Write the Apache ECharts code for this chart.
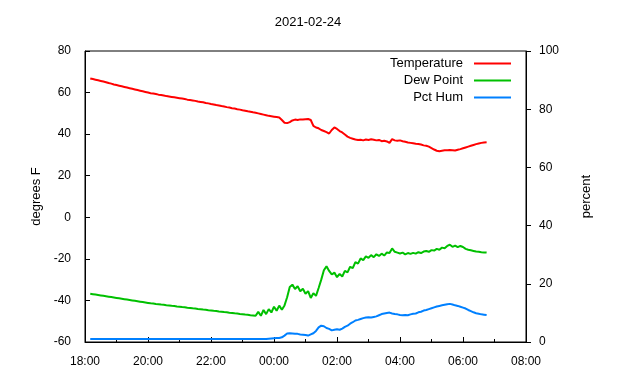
<!DOCTYPE html>
<html>
<head>
<meta charset="utf-8">
<script src="https://cdn.jsdelivr.net/npm/echarts@6/dist/echarts.min.js"></script>
<style>
  html, body { margin: 0; padding: 0; background: #fff; }
  #main { width: 640px; height: 380px; }
</style>
</head>
<body>
<div id="main"></div>
<script>
// samples every 5 minutes, first one at 18:10 (minutes counted from 18:00)
const startMin = 10;
const stepMin = 5;

const temperature = [
  66.8, 66.5, 66.2, 65.9, 65.6, 65.3, 65.0, 64.6, 64.3, 63.9,
  63.6, 63.3, 63.0, 62.7, 62.4, 62.1, 61.8, 61.5, 61.2, 60.9, 60.6, 60.3,
  60.0, 59.7, 59.5, 59.3, 59.0, 58.8, 58.6, 58.3, 58.1, 57.9, 57.7, 57.5,
  57.3, 57.1, 56.9, 56.6, 56.4, 56.2, 56.0, 55.7, 55.5, 55.3, 55.0, 54.8,
  54.5, 54.3, 54.0, 53.8, 53.5, 53.3, 53.0, 52.8, 52.5, 52.3, 52.0, 51.8,
  51.5, 51.3, 51.0, 50.8, 50.5, 50.3, 50.0, 49.7, 49.4, 49.1, 48.8, 48.6,
  48.4, 48.2, 48.0, 46.8, 45.5, 45.3, 45.8, 46.6, 47.0, 46.8, 47.1, 47.0,
  47.2, 47.3, 46.8, 44.0, 43.2, 42.8, 42.0, 41.5, 41.0, 40.3, 42.0, 43.2,
  42.5, 41.5, 40.8, 39.8, 38.8, 38.2, 37.8, 37.4, 37.2, 37.3, 37.0, 37.4,
  37.2, 37.5, 37.3, 37.0, 37.2, 36.6, 36.8, 36.5, 35.8, 37.6, 37.0, 36.8,
  37.0, 36.6, 36.3, 36.0, 35.8, 35.6, 35.4, 35.3, 35.0, 34.6, 34.4, 34.0,
  33.3, 32.6, 32.0, 31.8, 32.0, 32.2, 32.3, 32.4, 32.3, 32.1, 32.5, 32.8,
  33.2, 33.6, 34.0, 34.4, 34.8, 35.2, 35.5, 35.8, 36.0, 36.1
];

const dewPoint = [
  -36.8, -37.0, -37.2, -37.4, -37.6, -37.8, -38.0, -38.2, -38.4, -38.6,
  -38.8, -39.0, -39.2, -39.4, -39.6, -39.8, -40.0, -40.2, -40.4, -40.6, -40.8, -41.0,
  -41.2, -41.4, -41.5, -41.7, -41.8, -42.0, -42.1, -42.3, -42.4, -42.6, -42.7, -42.9,
  -43.0, -43.2, -43.3, -43.5, -43.6, -43.8, -43.9, -44.1, -44.2, -44.4, -44.5, -44.7,
  -44.8, -45.0, -45.1, -45.3, -45.4, -45.6, -45.7, -45.9, -46.0, -46.2, -46.3, -46.5,
  -46.6, -46.8, -46.9, -47.1, -47.2, -47.4, -45.5, -47.4, -44.6, -46.6, -44.2, -45.8,
  -43.0, -45.0, -42.5, -44.5, -42.4, -38.5, -33.5, -32.4, -34.5, -33.2, -35.6, -34.4,
  -36.8, -35.5, -38.8, -36.5, -37.8, -34.0, -30.0, -25.5, -23.6, -25.8, -27.5, -26.6,
  -28.8, -27.2, -28.5, -25.8, -26.5, -23.8, -24.5, -21.6, -22.3, -19.8, -20.6, -18.8,
  -19.5, -18.2, -19.2, -17.8, -18.6, -17.5, -18.4, -16.9, -17.2, -15.0, -16.6, -17.0,
  -17.4, -17.0, -17.8, -17.2, -17.6, -17.1, -17.5, -16.8, -17.2, -16.5, -16.2, -16.6,
  -15.8, -16.0, -15.2, -15.6, -14.6, -14.9, -13.8, -13.2, -14.2, -13.6, -14.4, -13.8,
  -14.3, -15.2, -15.6, -15.9, -16.2, -16.5, -16.6, -16.8, -16.9, -17.0
];

const pctHum = [
  1.0, 1.0, 1.0, 1.0, 1.0, 1.0, 1.0, 1.0, 1.0, 1.0,
  1.0, 1.0, 1.0, 1.0, 1.0, 1.0, 1.0, 1.0, 1.0, 1.0, 1.0, 1.0,
  1.0, 1.0, 1.0, 1.0, 1.0, 1.0, 1.0, 1.0, 1.0, 1.0, 1.0, 1.0,
  1.0, 1.0, 1.0, 1.0, 1.0, 1.0, 1.0, 1.0, 1.0, 1.0, 1.0, 1.0,
  1.0, 1.0, 1.0, 1.0, 1.0, 1.0, 1.0, 1.0, 1.0, 1.0, 1.0, 1.0,
  1.0, 1.0, 1.0, 1.0, 1.0, 1.0, 1.0, 1.0, 1.0, 1.0, 1.1, 1.2,
  1.3, 1.4, 1.4, 1.6, 2.2, 2.9, 3.0, 2.9, 2.8, 2.8, 2.6, 2.5,
  2.4, 2.2, 2.6, 3.0, 3.8, 5.0, 5.6, 5.4, 4.8, 4.5, 4.0, 4.2,
  4.4, 4.2, 4.6, 5.2, 5.6, 6.3, 6.8, 7.4, 7.6, 7.9, 8.2, 8.4,
  8.5, 8.4, 8.6, 8.8, 9.2, 9.6, 9.8, 10.0, 10.1, 9.8, 9.6, 9.5,
  9.3, 9.2, 9.3, 9.2, 9.5, 9.7, 9.8, 10.2, 10.4, 10.8, 11.0, 11.3,
  11.6, 11.9, 12.2, 12.4, 12.6, 12.8, 13.0, 13.1, 12.9, 12.6, 12.4, 12.1,
  11.8, 11.5, 11.0, 10.6, 10.2, 9.9, 9.7, 9.5, 9.4, 9.3
];

const xTickLabels = ['18:00', '20:00', '22:00', '00:00', '02:00', '04:00', '06:00', '08:00'];

function pairs(values) {
  return values.map((v, i) => [startMin + i * stepMin, v]);
}

const font = 'Liberation Sans, Arial, sans-serif';
const chart = echarts.init(document.getElementById('main'));

chart.setOption({
  animation: false,
  backgroundColor: '#fff',
  textStyle: { fontFamily: font, color: '#000' },
  title: {
    text: '2021-02-24',
    left: 303, top: 11, textAlign: 'center',
    textStyle: { fontFamily: font, fontSize: 13, fontWeight: 'normal', color: '#000' }
  },
  grid: {
    left: 85, right: 114, top: 51, bottom: 38,
    show: true, borderColor: '#000', borderWidth: 1, backgroundColor: 'transparent'
  },
  legend: {
    orient: 'vertical', right: 124, top: 52, align: 'right',
    icon: 'rect', itemWidth: 37, itemHeight: 2, itemGap: 4,
    textStyle: { fontFamily: font, fontSize: 13, color: '#000', padding: [0, 6, 0, 0] },
    data: ['Temperature', 'Dew Point', 'Pct Hum']
  },
  xAxis: {
    type: 'value', min: 0, max: 840, interval: 120,
    axisLine: { onZero: false, lineStyle: { color: '#000', width: 1 } },
    axisTick: { inside: true, length: 5, lineStyle: { color: '#000' } },
    minorTick: { show: true, splitNumber: 2, length: 3, lineStyle: { color: '#000' } },
    splitLine: { show: false },
    axisLabel: {
      margin: 14, fontFamily: font, fontSize: 12, color: '#000',
      formatter: v => xTickLabels[Math.round(v / 120)]
    }
  },
  yAxis: [{
    type: 'value', min: -60, max: 80, interval: 20,
    name: 'degrees F', nameLocation: 'middle', nameGap: 42, nameRotate: 90,
    nameTextStyle: { fontFamily: font, fontSize: 13, color: '#000' },
    axisLine: { show: true, lineStyle: { color: '#000' } },
    axisTick: { show: true, inside: true, length: 5, lineStyle: { color: '#000' } },
    splitLine: { show: false },
    axisLabel: { margin: 14, fontFamily: font, fontSize: 12, color: '#000' }
  }, {
    type: 'value', min: 0, max: 100, interval: 20, position: 'right',
    name: 'percent', nameLocation: 'middle', nameGap: 54, nameRotate: 90,
    nameTextStyle: { fontFamily: font, fontSize: 13, color: '#000' },
    axisLine: { show: true, lineStyle: { color: '#000' } },
    axisTick: { show: true, inside: false, length: 5, lineStyle: { color: '#000' } },
    splitLine: { show: false },
    axisLabel: { margin: 13, fontFamily: font, fontSize: 12, color: '#000' }
  }],
  series: [{
    name: 'Temperature', type: 'line', yAxisIndex: 0, showSymbol: false, symbol: 'none',
    color: '#ff0000', lineStyle: { width: 2 }, data: pairs(temperature)
  }, {
    name: 'Dew Point', type: 'line', yAxisIndex: 0, showSymbol: false, symbol: 'none',
    color: '#00c000', lineStyle: { width: 2 }, data: pairs(dewPoint)
  }, {
    name: 'Pct Hum', type: 'line', yAxisIndex: 1, showSymbol: false, symbol: 'none',
    color: '#0080ff', lineStyle: { width: 2 }, data: pairs(pctHum)
  }]
});
</script>
</body>
</html>
